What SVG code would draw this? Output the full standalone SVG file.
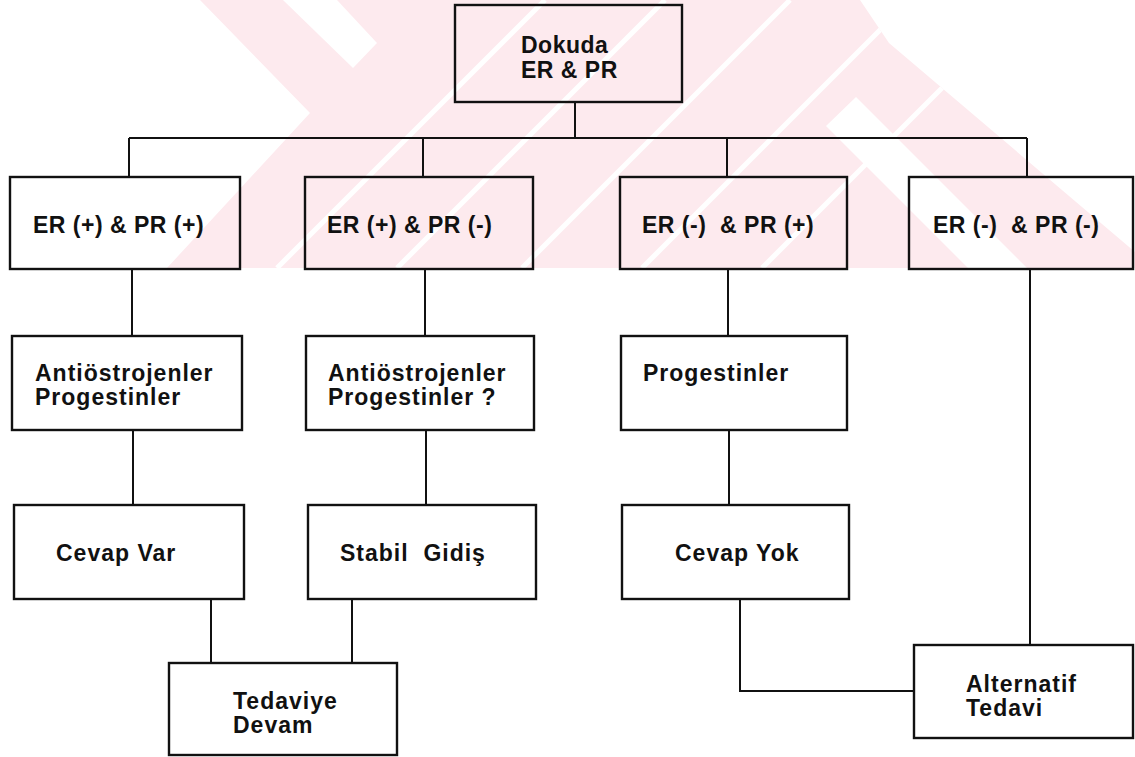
<svg xmlns="http://www.w3.org/2000/svg" width="1135" height="757" viewBox="0 0 1135 757">
<defs>
<style>
.box{fill:none;stroke:#111;stroke-width:2.4}
.ln{fill:none;stroke:#111;stroke-width:2}
text{font-family:"Liberation Sans",Arial,sans-serif;font-weight:bold;fill:#111;white-space:pre}
.t1{font-size:23px;letter-spacing:0.5px}
.t2{font-size:23px;letter-spacing:1px}
</style>
<clipPath id="wm"><polygon points="200,0 860,0 889,43 1135,252 1135,268 167,268 310,113"/></clipPath>
</defs>
<rect width="1135" height="757" fill="#fff"/>
<g id="watermark">
<polygon points="200,0 860,0 889,43 1135,252 1135,268 167,268 310,113" fill="#fdeaee"/>
<g clip-path="url(#wm)" fill="#fff">
<polygon points="283,0 337,0 377,43 353,68"/>
<polygon points="856,97 1027,268 968,268 826,126"/>
</g>
<g clip-path="url(#wm)" stroke="#fff" stroke-width="5">
<line x1="545" y1="0" x2="277" y2="268"/>
<line x1="665" y1="0" x2="397" y2="268"/>
<line x1="790" y1="0" x2="522" y2="268"/>
<line x1="910" y1="0" x2="642" y2="268"/>
<line x1="1030" y1="0" x2="762" y2="268"/>
</g>
</g>
<g id="connectors">
<path class="ln" d="M575,102 V138 M129,138 H1027 M129,138 V177 M423,138 V177 M727,138 V177 M1027,138 V177"/>
<path class="ln" d="M132,269 V336 M425,269 V336 M728,269 V336"/>
<path class="ln" d="M133,430 V505 M426,430 V505 M729,430 V505"/>
<path class="ln" d="M211,599 V663 M352,599 V663"/>
<path class="ln" d="M740,599 V691 H914"/>
<path class="ln" d="M1030,269 V645"/>
</g>
<g id="root"><rect class="box" x="455" y="5" width="227" height="97"/><text class="t1" x="521" y="53">Dokuda</text><text class="t1" x="521" y="78">ER &amp; PR</text></g>
<g id="b1"><rect class="box" x="10" y="177" width="230" height="92"/><text class="t1" x="33" y="233">ER (+) &amp; PR (+)</text></g>
<g id="b2"><rect class="box" x="305" y="177" width="228" height="92"/><text class="t1" x="327" y="233">ER (+) &amp; PR (-)</text></g>
<g id="b3"><rect class="box" x="620" y="177" width="227" height="92"/><text class="t1" x="642" y="233">ER (-)  &amp; PR (+)</text></g>
<g id="b4"><rect class="box" x="909" y="177" width="224" height="92"/><text class="t1" x="933" y="233">ER (-)  &amp; PR (-)</text></g>
<g id="c1"><rect class="box" x="12" y="336" width="230" height="94"/><text class="t2" x="35" y="381">Antiöstrojenler</text><text class="t2" x="35" y="405">Progestinler</text></g>
<g id="c2"><rect class="box" x="306" y="336" width="228" height="94"/><text class="t2" x="328" y="381">Antiöstrojenler</text><text class="t2" x="328" y="405">Progestinler ?</text></g>
<g id="c3"><rect class="box" x="621" y="336" width="226" height="94"/><text class="t2" x="643" y="381">Progestinler</text></g>
<g id="d1"><rect class="box" x="14" y="505" width="230" height="94"/><text class="t2" x="56" y="561">Cevap Var</text></g>
<g id="d2"><rect class="box" x="308" y="505" width="228" height="94"/><text class="t2" x="340" y="561">Stabil  Gidiş</text></g>
<g id="d3"><rect class="box" x="622" y="505" width="227" height="94"/><text class="t2" x="675" y="561">Cevap Yok</text></g>
<g id="e1"><rect class="box" x="169" y="663" width="228" height="92"/><text class="t2" x="233" y="709">Tedaviye</text><text class="t2" x="233" y="733">Devam</text></g>
<g id="e2"><rect class="box" x="914" y="645" width="219" height="93"/><text class="t2" x="966" y="692">Alternatif</text><text class="t2" x="966" y="716">Tedavi</text></g>
</svg>
